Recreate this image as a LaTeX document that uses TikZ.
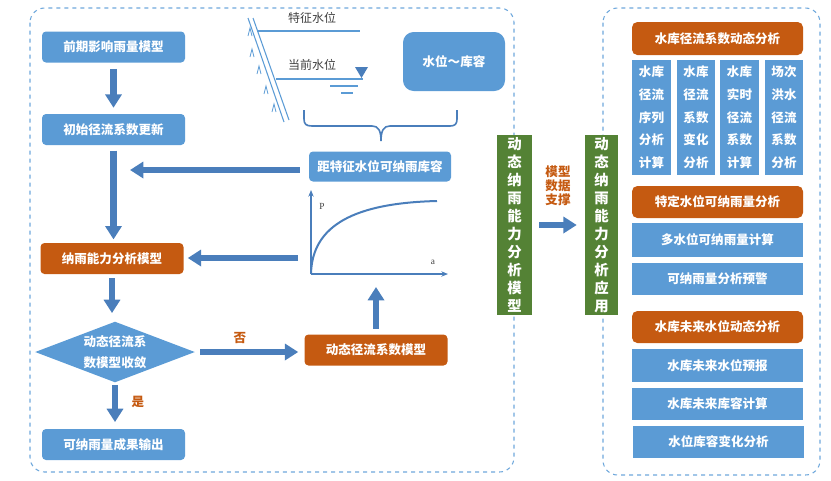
\documentclass[tikz,border=0pt]{standalone}
\usepackage{fontspec}
\setmainfont{Noto Sans CJK SC}
\newfontfamily\latinserif{Liberation Serif}
\usetikzlibrary{arrows.meta,shapes.geometric,calc}
\definecolor{cblue}{HTML}{5B9BD5}
\definecolor{corange}{HTML}{C55A11}
\definecolor{cgreen}{HTML}{548235}
\definecolor{carrow}{HTML}{4A7EBB}
\definecolor{cdash}{HTML}{6FA8DC}
\definecolor{ctext}{HTML}{404040}
\newdimen\pxu \pxu=0.75pt
\newcommand\myboxfont{\bfseries\fontsize{9.4}{11}\selectfont}
\newcommand\mycolfont{\bfseries\fontsize{9.4}{17}\selectfont}
\newcommand\mygreenfont{\bfseries\fontsize{10.8}{13.5}\selectfont}
\newcommand\mydiafont{\bfseries\fontsize{9.4}{15.75}\selectfont}
\newcommand\mylabfont{\bfseries\fontsize{9.4}{10.5}\selectfont}
\tikzset{
  lbox/.style={rectangle, rounded corners=3pt, fill=cblue, text=white, font=\myboxfont, inner sep=0pt, minimum width=143\pxu, minimum height=31\pxu},
  obox/.style={lbox, fill=corange},
  rbox/.style={rectangle, fill=cblue, text=white, font=\myboxfont, inner sep=0pt, minimum width=171\pxu, minimum height=33\pxu},
  rhead/.style={rbox, fill=corange, rounded corners=4pt},
  colbox/.style={rectangle, fill=cblue, text=white, font=\mycolfont, inner sep=0pt, minimum width=39\pxu, minimum height=115\pxu, align=center},
  gbox/.style={rectangle, fill=cgreen, text=white, font=\mygreenfont, inner sep=0pt, minimum width=35\pxu, minimum height=180\pxu, align=center},
  bigarrow/.style={draw=carrow, line width=5pt, -{Triangle[width=12pt,length=10pt]}},
  frame/.style={draw=cdash, dashed, line width=0.8pt, rounded corners=11pt},
  olabel/.style={text=corange, font=\mylabfont, align=center, inner sep=0pt},
  damline/.style={draw=cblue, line width=0.8pt},
  plain/.style={text=ctext, font=\fontsize{9}{10}\selectfont, inner sep=0pt},
  axis/.style={draw=carrow, line width=1.1pt, -{Stealth[length=5pt,width=4pt]}},
}
\begin{document}
\begin{tikzpicture}[x=0.75pt,y=-0.75pt]
\useasboundingbox (0,0) rectangle (831,480);

% frames
\draw[frame] (30,8) rectangle (514,472);
\draw[frame] (603,8) rectangle (820,475);

% left column
\node[lbox] (n1) at (113.5,47) {前期影响雨量模型};
\node[lbox] (n2) at (113.5,129.5) {初始径流系数更新};
\node[obox] (n3) at (112,258.5) {纳雨能力分析模型};
\node[rectangle, inner sep=0pt, minimum width=159\pxu, minimum height=60\pxu] (dia) at (115,352) {};
\fill[cblue] (dia.west) -- (dia.north) -- (dia.east) -- (dia.south) -- cycle;
\node[text=white, font=\mydiafont, align=center, inner sep=0pt] (diat) at (dia.center) {动态径流系\\数模型收敛};
\node[lbox] (n5) at (113.5,444.5) {可纳雨量成果输出};

% middle
\node[lbox, minimum width=142\pxu, minimum height=30\pxu] (dist) at (380,166.5) {距特征水位可纳雨库容};
\node[obox] (dyn) at (376,350) {动态径流系数模型};
\node[lbox, rounded corners=8pt, minimum width=102\pxu, minimum height=59\pxu] (wl) at (454,61.5) {水位～库容};

% dam sketch
\draw[damline] (248,18) -- (284,122);
\draw[damline] (253,18) -- (289,120);
\foreach \cx/\cy in {250/31, 252/52, 259/69, 266/89, 274/107}
  \draw[draw=cblue, line width=0.6pt] (\cx-2,\cy+5) -- (\cx,\cy-3) -- (\cx+2,\cy+5);
\draw[damline] (257,31) -- (360,31);
\draw[damline] (276,79) -- (363,79);
\draw[damline] (330,86) -- (358,86);
\draw[damline] (341,93) -- (353,93);
\fill[carrow] (355,67) -- (368,67) -- (361.5,78) -- cycle;
\node[plain] (tz) at (312,18) {特征水位};
\node[plain] (dq) at (312,65) {当前水位};

% brace
\draw[carrow, line width=1.2pt] (304,110) -- (304,119) .. controls (304,124) and (306,126) .. (312,126) -- (372,126) .. controls (378,126) and (381,130) .. (381,141) .. controls (381,130) and (384,126) .. (390,126) -- (450,126) .. controls (455,126) and (457,124) .. (457,119) -- (457,110);

% graph
\coordinate (gO) at (311,274);
\coordinate (gY) at (311,190);
\coordinate (gX) at (448,274);
\draw[axis] (gO) -- (gY);
\draw[axis] (gO) -- (gX);
\draw[carrow, line width=1.5pt] (gO) .. controls (312,225) and (355,203) .. (437,201);
\node[text=ctext, font=\latinserif\fontsize{7}{8}\selectfont, inner sep=0pt] (lp) at (322,206) {P};
\node[text=ctext, font=\latinserif\fontsize{7}{8}\selectfont, inner sep=0pt] (la) at (433,262) {a};

% arrows left flow
\draw[bigarrow, shorten <=4.5pt, shorten >=4.5pt] (n1.south) -- (n1.south |- n2.north);
\draw[bigarrow, shorten <=4pt, shorten >=2.5pt] (n2.south) -- (n2.south |- n3.north);
\coordinate (c1) at (130,170);
\draw[bigarrow] ([shift={(-9,3.5)}]dist.west) -- (c1);
\coordinate (gs) at (298,258);
\draw[bigarrow, shorten >=3pt] (gs) -- (gs -| n3.east);
\draw[bigarrow, shorten <=3pt, shorten >=6.5pt] (n3.south) -- (n3.south |- dia.north);
\draw[bigarrow, shorten <=2pt, shorten >=5pt] (dia.south) -- (dia.south |- n5.north);
\draw[bigarrow, shorten <=4pt, shorten >=4.5pt] (dia.east) -- (dia.east -| dyn.west);
\node[olabel] (no) at (240,338) {否};
\node[olabel] (yes) at (138,402) {是};
\coordinate (gup) at (376,287);
\draw[bigarrow, shorten <=4pt] (dyn.north) -- (gup);

% green boxes
\node[gbox] (g1) at (514.5,225) {动\\态\\纳\\雨\\能\\力\\分\\析\\模\\型};
\node[gbox, minimum width=33\pxu] (g2) at (601.5,225) {动\\态\\纳\\雨\\能\\力\\分\\析\\应\\用};
\draw[bigarrow, shorten <=5.25pt, shorten >=6pt] (g1.east) -- (g2.west);
\node[olabel] (sup) at (558,186) {模型\\数据\\支撑};

% right panel
\node[rhead] (h1) at (717.5,38.5) {水库径流系数动态分析};
\node[colbox] (k1) at (651.5,117.5) {水库\\径流\\序列\\分析\\计算};
\node[colbox, minimum width=38\pxu] (k2) at (696,117.5) {水库\\径流\\系数\\变化\\分析};
\node[colbox] (k3) at (739.5,117.5) {水库\\实时\\径流\\系数\\计算};
\node[colbox, minimum width=38\pxu] (k4) at (784,117.5) {场次\\洪水\\径流\\系数\\分析};
\node[rhead, minimum height=32\pxu] (h2) at (717.5,202) {特定水位可纳雨量分析};
\node[rbox, minimum height=34\pxu] (b1) at (717.5,240) {多水位可纳雨量计算};
\node[rbox, minimum height=32\pxu] (b2) at (717.5,279) {可纳雨量分析预警};
\node[rhead, minimum height=32\pxu] (h3) at (717.5,327) {水库未来水位动态分析};
\node[rbox] (b3) at (717.5,365.5) {水库未来水位预报};
\node[rbox, minimum height=32\pxu] (b4) at (717.5,404) {水库未来库容计算};
\node[rbox, minimum height=32\pxu] (b5) at (718.5,442) {水位库容变化分析};
\end{tikzpicture}
\end{document}
